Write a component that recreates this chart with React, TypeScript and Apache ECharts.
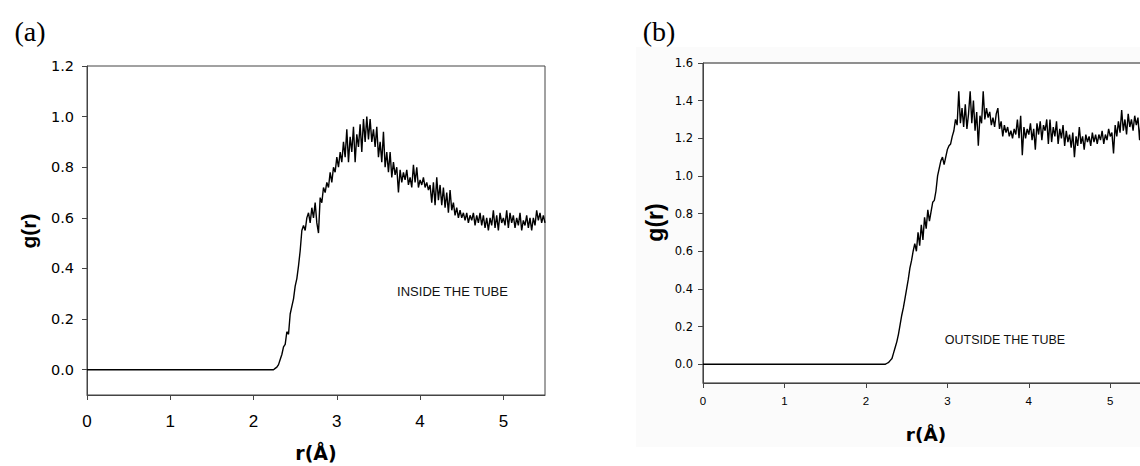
import React, { useEffect, useRef } from "react";
import * as echarts from "echarts";

// sampling radii r (Å), shared by both panels; the curves are 0 from r = 0
const rValues = [
  2.20, 2.22, 2.24, 2.26, 2.28, 2.30, 2.32, 2.34, 2.36, 2.38,
  2.40, 2.42, 2.44, 2.46, 2.48, 2.50, 2.52, 2.54, 2.56, 2.58,
  2.60, 2.62, 2.64, 2.66, 2.68, 2.70, 2.72, 2.74, 2.76, 2.78,
  2.80, 2.82, 2.84, 2.86, 2.88, 2.90, 2.92, 2.94, 2.96, 2.98,
  3.00, 3.02, 3.04, 3.06, 3.08, 3.10, 3.12, 3.14, 3.16, 3.18,
  3.20, 3.22, 3.24, 3.26, 3.28, 3.30, 3.32, 3.34, 3.36, 3.38,
  3.40, 3.42, 3.44, 3.46, 3.48, 3.50, 3.52, 3.54, 3.56, 3.58,
  3.60, 3.62, 3.64, 3.66, 3.68, 3.70, 3.72, 3.74, 3.76, 3.78,
  3.80, 3.82, 3.84, 3.86, 3.88, 3.90, 3.92, 3.94, 3.96, 3.98,
  4.00, 4.02, 4.04, 4.06, 4.08, 4.10, 4.12, 4.14, 4.16, 4.18,
  4.20, 4.22, 4.24, 4.26, 4.28, 4.30, 4.32, 4.34, 4.36, 4.38,
  4.40, 4.42, 4.44, 4.46, 4.48, 4.50, 4.52, 4.54, 4.56, 4.58,
  4.60, 4.62, 4.64, 4.66, 4.68, 4.70, 4.72, 4.74, 4.76, 4.78,
  4.80, 4.82, 4.84, 4.86, 4.88, 4.90, 4.92, 4.94, 4.96, 4.98,
  5.00, 5.02, 5.04, 5.06, 5.08, 5.10, 5.12, 5.14, 5.16, 5.18,
  5.20, 5.22, 5.24, 5.26, 5.28, 5.30, 5.32, 5.34, 5.36, 5.38,
  5.40, 5.42, 5.44, 5.46, 5.48, 5.50,
];

// (a) inside the tube
const gInside = [
  0, 0, 0, 0.005, 0.01, 0.02, 0.04, 0.06, 0.09, 0.10,
  0.15, 0.14, 0.22, 0.25, 0.28, 0.33, 0.36, 0.41, 0.47, 0.55,
  0.57, 0.55, 0.60, 0.62, 0.58, 0.64, 0.60, 0.66, 0.58, 0.54,
  0.68, 0.66, 0.72, 0.70, 0.74, 0.72, 0.78, 0.74, 0.80, 0.78,
  0.84, 0.80, 0.86, 0.82, 0.90, 0.84, 0.95, 0.82, 0.92, 0.86,
  0.96, 0.82, 0.93, 0.88, 0.97, 0.86, 0.99, 0.90, 1.00, 0.91,
  0.99, 0.90, 0.95, 0.88, 0.96, 0.84, 0.90, 0.82, 0.94, 0.80,
  0.86, 0.78, 0.86, 0.76, 0.82, 0.77, 0.80, 0.70, 0.79, 0.74,
  0.78, 0.75, 0.79, 0.73, 0.76, 0.72, 0.81, 0.74, 0.80, 0.72,
  0.75, 0.73, 0.76, 0.72, 0.74, 0.71, 0.73, 0.66, 0.74, 0.65,
  0.76, 0.67, 0.73, 0.65, 0.72, 0.64, 0.70, 0.62, 0.71, 0.63,
  0.66, 0.61, 0.64, 0.60, 0.63, 0.60, 0.62, 0.59, 0.62, 0.58,
  0.61, 0.59, 0.62, 0.57, 0.61, 0.58, 0.62, 0.57, 0.61, 0.56,
  0.60, 0.55, 0.60, 0.57, 0.63, 0.56, 0.61, 0.55, 0.62, 0.58,
  0.60, 0.57, 0.63, 0.56, 0.62, 0.58, 0.61, 0.56, 0.60, 0.57,
  0.62, 0.55, 0.59, 0.57, 0.61, 0.56, 0.60, 0.55, 0.60, 0.57,
  0.63, 0.59, 0.62, 0.58, 0.61, 0.58,
];

// (b) outside the tube
const gOutside = [
  0, 0, 0, 0.005, 0.01, 0.02, 0.03, 0.06, 0.09, 0.12,
  0.16, 0.21, 0.26, 0.30, 0.35, 0.40, 0.45, 0.51, 0.55, 0.60,
  0.64, 0.60, 0.70, 0.63, 0.74, 0.66, 0.78, 0.72, 0.82, 0.76,
  0.81, 0.86, 0.87, 0.92, 1.00, 1.04, 1.08, 1.10, 1.06, 1.10,
  1.14, 1.16, 1.17, 1.21, 1.24, 1.30, 1.27, 1.45, 1.28, 1.36,
  1.26, 1.38, 1.25, 1.33, 1.45, 1.28, 1.40, 1.24, 1.34, 1.16,
  1.32, 1.28, 1.45, 1.30, 1.36, 1.31, 1.34, 1.27, 1.31, 1.26,
  1.33, 1.36, 1.25, 1.29, 1.21, 1.27, 1.23, 1.26, 1.21, 1.24,
  1.20, 1.25, 1.22, 1.30, 1.20, 1.32, 1.11, 1.26, 1.20, 1.25,
  1.22, 1.28, 1.19, 1.25, 1.14, 1.28, 1.22, 1.29, 1.19, 1.27,
  1.24, 1.30, 1.17, 1.30, 1.18, 1.26, 1.21, 1.29, 1.17, 1.25,
  1.20, 1.27, 1.16, 1.24, 1.18, 1.22, 1.15, 1.23, 1.10, 1.21,
  1.16, 1.26, 1.17, 1.21, 1.14, 1.22, 1.18, 1.21, 1.16, 1.23,
  1.18, 1.22, 1.17, 1.22, 1.19, 1.24, 1.17, 1.22, 1.19, 1.25,
  1.21, 1.23, 1.12, 1.27, 1.21, 1.29, 1.23, 1.35, 1.24, 1.30,
  1.22, 1.33, 1.26, 1.30, 1.24, 1.32, 1.27, 1.31, 1.19, 1.30,
  1.26, 1.29, 1.25, 1.30, 1.26, 1.28,
];

const xTicks = [0, 1, 2, 3, 4, 5];
const yTicksA = [0, 0.2, 0.4, 0.6, 0.8, 1.0, 1.2];
const yTicksB = [0, 0.2, 0.4, 0.6, 0.8, 1.0, 1.2, 1.4, 1.6];

const toSeries = (g: number[]) => {
  const n = Math.min(rValues.length, g.length);
  const out: number[][] = [[0, 0]];
  for (let i = 0; i < n; i++) out.push([rValues[i], g[i]]);
  return out;
};

const AXIS = "#444";

function xAxisCfg(grid: number, fontFamily: string, fontSize: number, margin: number, max: number) {
  return {
    type: "value",
    gridIndex: grid,
    min: 0,
    max,
    interval: 1,
    splitLine: { show: false },
    axisLine: { show: true, onZero: false, lineStyle: { color: AXIS, width: 1 } },
    axisTick: { show: true, inside: false, length: 5, customValues: xTicks, lineStyle: { color: AXIS } },
    axisLabel: {
      customValues: xTicks,
      color: "#000",
      fontFamily,
      fontSize,
      margin,
      formatter: (v: number) => String(v),
    },
  };
}

function yAxisCfg(grid: number, max: number, ticks: number[], fontSize: number, margin: number) {
  return {
    type: "value",
    gridIndex: grid,
    min: -0.1,
    max,
    splitLine: { show: false },
    axisLine: { show: true, onZero: false, lineStyle: { color: AXIS, width: 1 } },
    axisTick: { show: true, inside: false, length: 5, customValues: ticks, lineStyle: { color: AXIS } },
    axisLabel: {
      customValues: ticks,
      color: "#000",
      fontFamily: "DejaVu Sans",
      fontSize,
      margin,
      formatter: (v: number) => v.toFixed(1),
    },
  };
}

export default function App() {
  const ref = useRef<HTMLDivElement>(null);
  useEffect(() => {
    if (!ref.current) return;
    const chart = echarts.init(ref.current, undefined, { renderer: "svg" });
    const option: any = {
      animation: false,
      backgroundColor: "#fff",
      grid: [
        {
          left: 87, top: 66, width: 458, height: 329,
          show: true, borderColor: AXIS, borderWidth: 1, backgroundColor: "#fff",
          containLabel: false, outerBoundsMode: "none",
        },
        {
          left: 703, top: 63, width: 448, height: 320,
          show: true, borderColor: "#222", borderWidth: 1, backgroundColor: "#fff",
          containLabel: false, outerBoundsMode: "none",
        },
      ],
      xAxis: [
        xAxisCfg(0, "Liberation Sans", 17, 18, 5.5),
        xAxisCfg(1, "Liberation Sans", 11.5, 12, 5.5),
      ],
      yAxis: [
        yAxisCfg(0, 1.2, yTicksA, 14.5, 13),
        yAxisCfg(1, 1.6, yTicksB, 11.5, 10),
      ],
      series: [
        {
          type: "line", xAxisIndex: 0, yAxisIndex: 0, data: toSeries(gInside),
          showSymbol: false, symbol: "none", clip: true,
          lineStyle: { color: "#000", width: 1.4 },
        },
        {
          type: "line", xAxisIndex: 1, yAxisIndex: 1, data: toSeries(gOutside),
          showSymbol: false, symbol: "none", clip: true,
          lineStyle: { color: "#000", width: 1.4 },
        },
      ],
      graphic: [
        {
          type: "rect", z: -10, silent: true,
          shape: { x: 636, y: 47, width: 504, height: 400 },
          style: { fill: "#fbfbfb" },
        },
        {
          type: "text", x: 30, y: 31,
          style: { text: "(a)", font: "28px 'Liberation Serif'", fill: "#000", textAlign: "center", textVerticalAlign: "middle" },
        },
        {
          type: "text", x: 659, y: 31,
          style: { text: "(b)", font: "28px 'Liberation Serif'", fill: "#000", textAlign: "center", textVerticalAlign: "middle" },
        },
        {
          type: "text", x: 28, y: 231, rotation: Math.PI / 2,
          style: { text: "g(r)", font: "bold 21px 'Liberation Sans'", fill: "#000", textAlign: "center", textVerticalAlign: "middle" },
        },
        {
          type: "text", x: 316, y: 453,
          style: { text: "r(Å)", font: "bold 19px 'DejaVu Sans'", fill: "#000", textAlign: "center", textVerticalAlign: "middle" },
        },
        {
          type: "text", x: 655, y: 222.5, rotation: Math.PI / 2,
          style: { text: "g(r)", font: "bold 23px 'Liberation Sans'", fill: "#000", textAlign: "center", textVerticalAlign: "middle" },
        },
        {
          type: "text", x: 926, y: 434,
          style: { text: "r(Å)", font: "bold 18.5px 'DejaVu Sans'", fill: "#000", textAlign: "center", textVerticalAlign: "middle" },
        },
        {
          type: "text", x: 452.5, y: 291,
          style: { text: "INSIDE THE TUBE", font: "13px 'Liberation Sans'", fill: "#111", textAlign: "center", textVerticalAlign: "middle" },
        },
        {
          type: "text", x: 1005, y: 339.5,
          style: { text: "OUTSIDE THE TUBE", font: "12.5px 'Liberation Sans'", fill: "#111", textAlign: "center", textVerticalAlign: "middle" },
        },
      ],
    };
    chart.setOption(option);
    return () => chart.dispose();
  }, []);
  return (
    <div
      ref={ref}
      style={{ position: "absolute", left: 0, top: 0, width: 1140, height: 466 }}
    />
  );
}
